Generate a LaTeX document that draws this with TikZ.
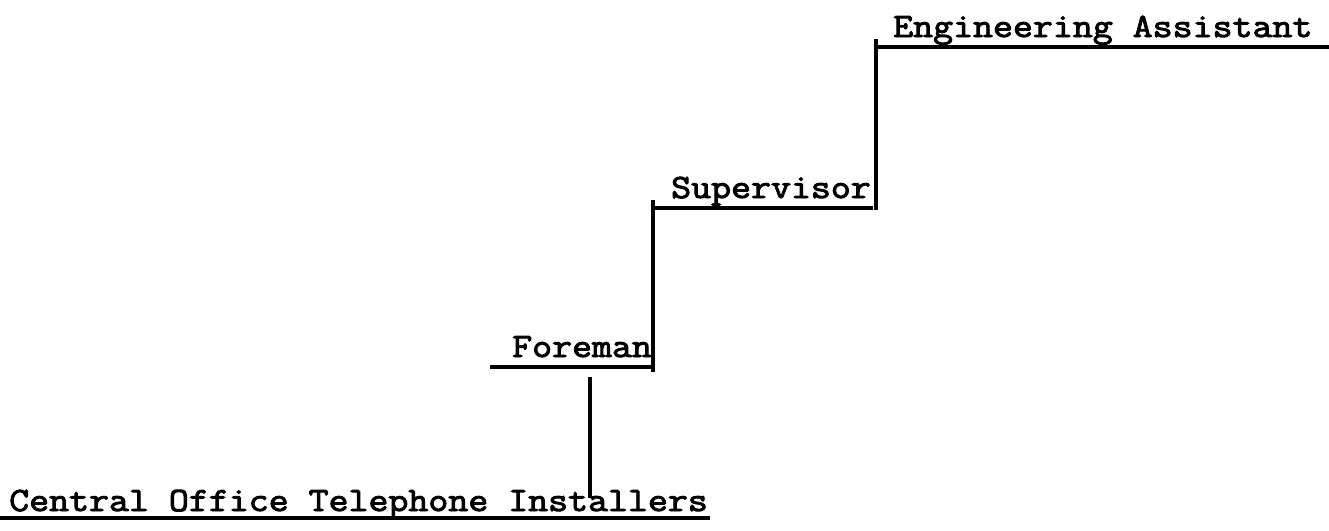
\documentclass[tikz,border=0pt]{standalone}
\usepackage{fontspec}
\newfontfamily\typewriter{Latin Modern Mono}[FakeBold=2.8,FakeStretch=1.14]
\begin{document}
\begin{tikzpicture}[x=1pt,y=-1pt,
  title/.style={anchor=base west,inner sep=0pt,font=\typewriter\bfseries\fontsize{34}{36}\selectfont},
  rule/.style={line width=3.2pt,line cap=butt},
  link/.style={line width=3.2pt}]
\useasboundingbox[fill=white] (0,0) rectangle (1329,530);
% titles
\node[title] (ins)  at (9,511)   {Central Office Telephone Installers};
\node[title] (fore) at (512,357) {Foreman};
\node[title] (supv) at (671,198) {Supervisor};
\node[title] (eng)  at (893,37)  {Engineering Assistant};
% underline end points
\coordinate (insL)  at (0,518);   \coordinate (insR)  at (710,518);
\coordinate (foreL) at (490,367); \coordinate (foreR) at (653,367);
\coordinate (supvL) at (653,208); \coordinate (supvR) at (873,208);
\coordinate (engL)  at (876,47);  \coordinate (engR)  at (1329,47);
% connector ends
\coordinate (c1b) at (590,498); \coordinate (c1t) at (590,377);
\coordinate (c2b) at (653,372); \coordinate (c2t) at (653,200);
\coordinate (c3b) at (876,210); \coordinate (c3t) at (876,39);
% underlines
\draw[rule] (insL) -- (insR);
\draw[rule] (foreL) -- (foreR);
\draw[rule] (supvL) -- (supvR);
\draw[rule] (engL) -- (engR);
% steps
\draw[link] (c1b) -- (c1t);
\draw[link] (c2b) -- (c2t);
\draw[link] (c3b) -- (c3t);
\end{tikzpicture}
\end{document}
